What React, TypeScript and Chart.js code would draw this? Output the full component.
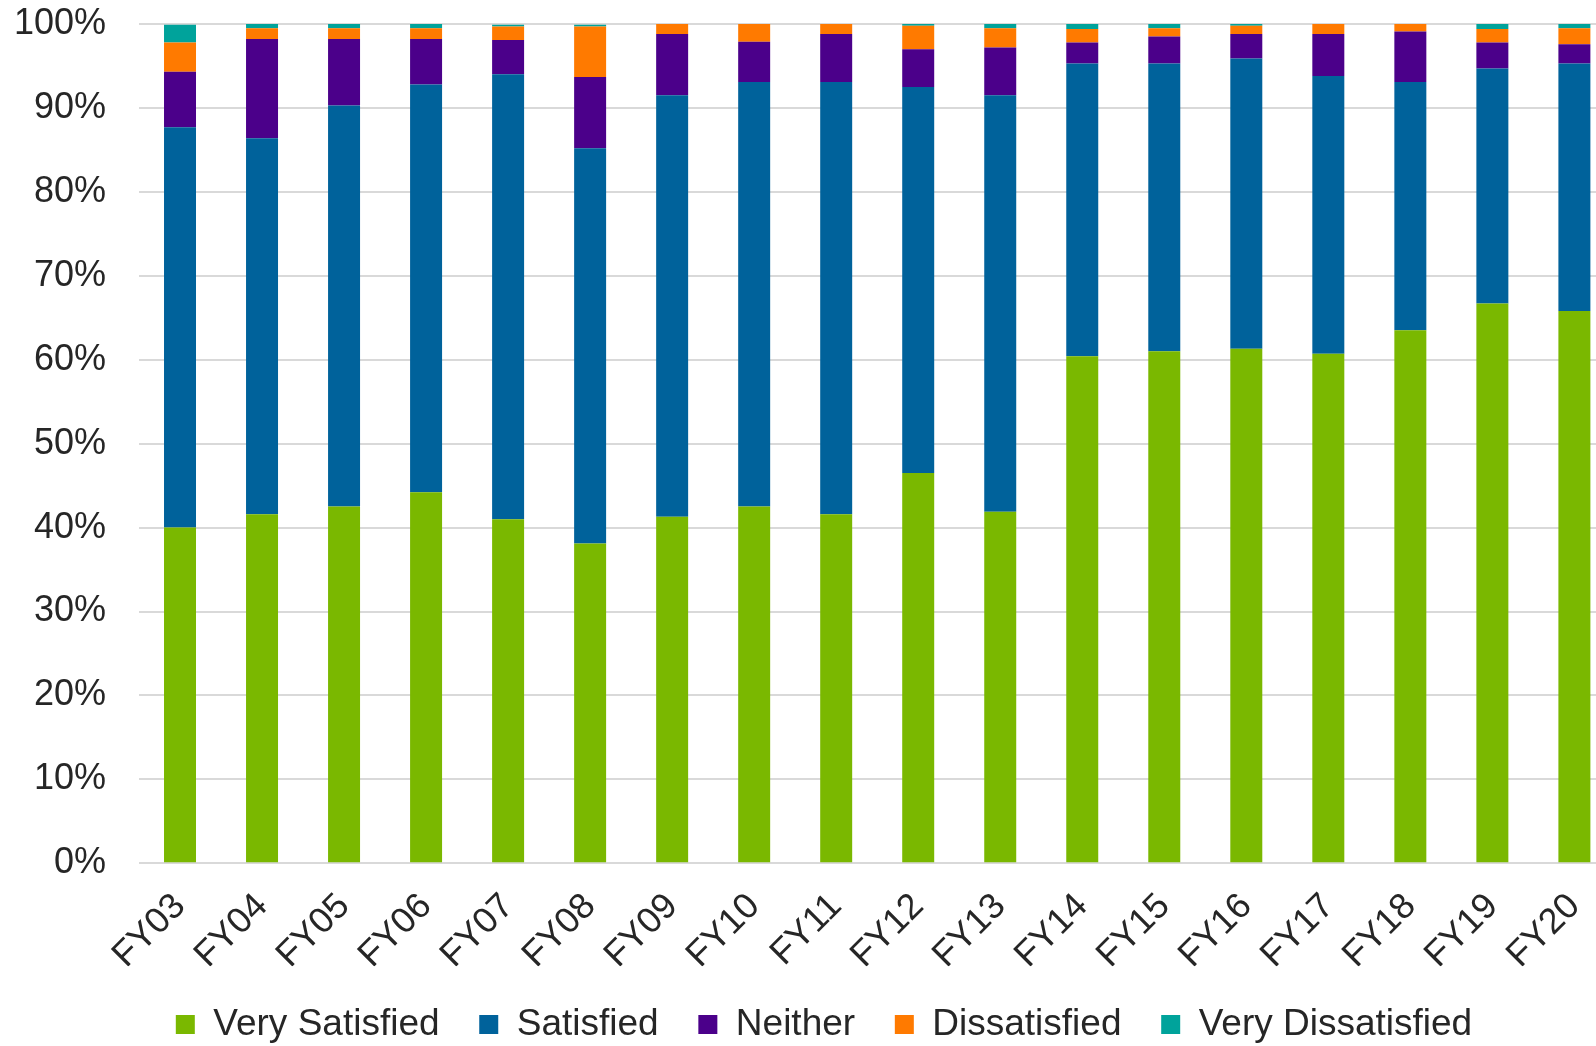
import React, { useEffect, useRef } from 'react';
import { Chart, registerables } from 'chart.js';

Chart.register(...registerables);

const categories = ['FY03', 'FY04', 'FY05', 'FY06', 'FY07', 'FY08', 'FY09', 'FY10', 'FY11', 'FY12', 'FY13', 'FY14', 'FY15', 'FY16', 'FY17', 'FY18', 'FY19', 'FY20'];

const verySatisfied = [40.0, 41.6, 42.5, 44.2, 41.0, 38.1, 41.3, 42.5, 41.6, 46.5, 41.9, 60.4, 61.0, 61.3, 60.7, 63.5, 66.7, 65.8];
const satisfied = [47.7, 44.8, 47.8, 48.6, 53.0, 47.1, 50.2, 50.6, 51.5, 46.0, 49.6, 34.9, 34.3, 34.6, 33.1, 29.6, 28.0, 29.5];
const neither = [6.6, 11.8, 7.9, 5.4, 4.1, 8.5, 7.3, 4.8, 5.7, 4.5, 5.7, 2.5, 3.2, 2.9, 5.0, 6.0, 3.1, 2.3];
const dissatisfied = [3.5, 1.3, 1.3, 1.3, 1.6, 6.0, 1.2, 2.1, 1.2, 2.8, 2.3, 1.6, 1.0, 1.0, 1.2, 0.9, 1.6, 1.9];
const veryDissatisfied = [2.1, 0.5, 0.5, 0.5, 0.2, 0.2, 0, 0, 0, 0.2, 0.6, 0.6, 0.6, 0.3, 0, 0, 0.6, 0.6];

const seriesNames = ['Very Satisfied', 'Satisfied', 'Neither', 'Dissatisfied', 'Very Dissatisfied'];
const seriesColors = ['#7AB800', '#00629B', '#4B008A', '#FF7A00', '#00A39B'];

const FONT = "'Liberation Sans', Arial, sans-serif";
const TEXT = '#262626';

export default function App() {
  const ref = useRef<HTMLCanvasElement>(null);

  useEffect(() => {
    if (!ref.current) return;
    const values = [verySatisfied, satisfied, neither, dissatisfied, veryDissatisfied];
    const chart = new Chart(ref.current, {
      type: 'bar',
      data: {
        labels: categories,
        datasets: values.map((v, i) => ({
          label: seriesNames[i],
          data: v,
          backgroundColor: seriesColors[i],
          borderWidth: 0,
          barPercentage: 0.39,
          categoryPercentage: 1,
        })),
      },
      options: {
        animation: false,
        responsive: true,
        maintainAspectRatio: false,
        devicePixelRatio: 1,
        layout: { padding: { left: 14, right: 16, top: 0, bottom: 0 } },
        plugins: {
          legend: {
            position: 'bottom',
            labels: {
              boxWidth: 19,
              boxHeight: 19,
              padding: 39.7,
              color: TEXT,
              font: { size: 37, family: FONT },
            },
          },
          tooltip: { enabled: false },
        },
        scales: {
          x: {
            stacked: true,
            grid: { display: false, drawTicks: false },
            border: { display: false },
            ticks: {
              minRotation: 45,
              maxRotation: 45,
              padding: 22,
              color: TEXT,
              font: { size: 36, family: FONT },
            },
            afterFit: (s: any) => { s.height = 103; },
          },
          y: {
            stacked: true,
            min: 0,
            max: 100,
            ticks: {
              stepSize: 10,
              padding: 33,
              color: TEXT,
              font: { size: 36, family: FONT },
              callback: (v: any) => v + '%',
            },
            grid: { color: '#D9D9D9', lineWidth: 2, drawTicks: false },
            border: { display: false },
            afterFit: (s: any) => { s.width = 125; s.paddingTop = 24; s.paddingBottom = 0; },
          },
          yr: {
            position: 'right',
            display: true,
            grid: { display: false, drawTicks: false },
            border: { display: false },
            ticks: { display: false },
            afterFit: (s: any) => { s.width = 18.6; s.paddingTop = 0; s.paddingBottom = 0; },
          },
        },
      } as any,
    });
    return () => chart.destroy();
  }, []);

  return (
    <div style={{ position: 'fixed', left: 0, top: 0, width: 1596, height: 1046, overflow: 'hidden', background: '#fff' }}>
      <div style={{ position: 'relative', width: 1650, height: 1053 }}>
        <canvas ref={ref} />
      </div>
    </div>
  );
}
